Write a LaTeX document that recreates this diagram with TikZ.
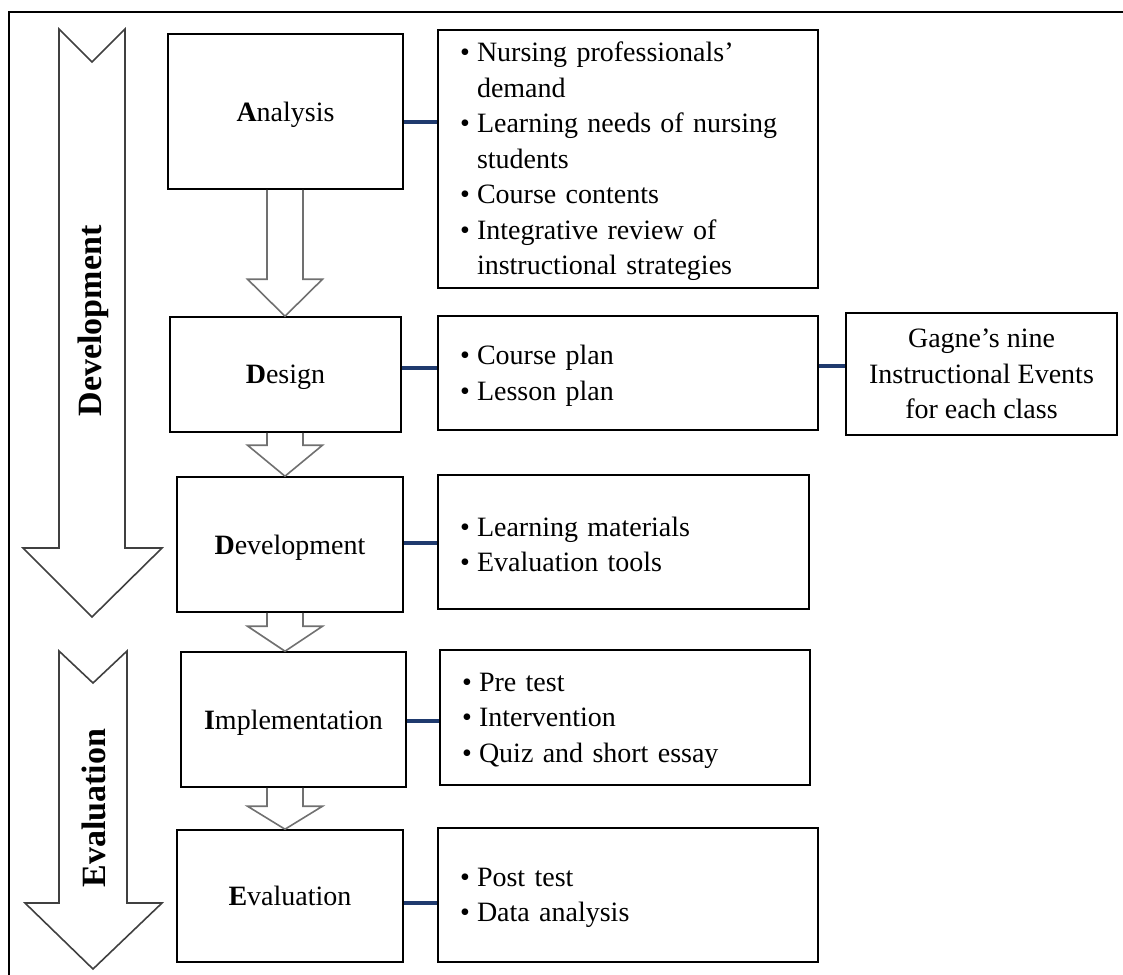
\documentclass[tikz,border=0pt]{standalone}
\usepackage{fontspec}
\setmainfont{Liberation Serif}
\usepackage{xcolor}
\usepackage{tikz}
\usetikzlibrary{positioning,calc}

\definecolor{linkblue}{HTML}{1F3A6E}
\definecolor{arrgray}{HTML}{707070}

\newcommand{\itm}{\par\hangindent=17pt\hangafter=1\noindent\makebox[17pt][l]{\textbullet}}
\newcommand{\listend}{\par\kern11pt}
\newcommand{\flowarrow}[3]{%
    \draw[smallarr] let \p1=(ax |- #1.south), \p2=(ax |- #2.north) in
        (\x1-18pt,\y1) -- (\x1-18pt,\y2+#3pt) -- (\x1-37.5pt,\y2+#3pt) -- (\x2,\y2)
        -- (\x1+37.5pt,\y2+#3pt) -- (\x1+18pt,\y2+#3pt) -- (\x1+18pt,\y1);}

\begin{document}
\begin{tikzpicture}[x=1pt, y=-1pt,
        stage/.style={rectangle, draw, line width=1.6pt, align=center, inner sep=0pt, text depth=0pt, font=\fontsize{28}{35.5}\selectfont},
        note/.style={rectangle, draw, line width=1.6pt, align=center, inner sep=0pt, font=\fontsize{28}{35.5}\selectfont},
        list/.style={rectangle, draw, line width=1.6pt, align=left, inner xsep=22pt, inner ysep=0pt, font=\fontsize{28}{35.5}\selectfont},
        link/.style={line width=3.8pt, linkblue},
        smallarr/.style={draw=arrgray, line width=1.6pt},
        bigarr/.style={draw=black!75, line width=1.6pt},
        phase/.style={rotate=90, font=\fontsize{34}{40}\selectfont\bfseries}
    ]
        \useasboundingbox (0,0) rectangle (1123,974);
        \clip (0,0) rectangle (1123,974);
        \draw[line width=2.5pt] (9,12) rectangle (1140,990);

        % Phase arrows
        \draw[bigarr] (59,29) -- (92,62) -- (125,29) -- (125,548) -- (162,548) -- (92,617) -- (23,548) -- (59,548) -- cycle;
        \node[phase] (devphase) at (93,321) {Development};
        \draw[bigarr] (59,651) -- (93,683) -- (127,651) -- (127,903) -- (162,903) -- (93,969) -- (25,903) -- (59,903) -- cycle;
        \node[phase] (evaphase) at (94,808) {Evaluation};

        % ADDIE stages
        \node[stage, minimum width=235, minimum height=155] (ana) at (285.5,111.5) {\textbf{A}nalysis};
        \node[stage, minimum width=231, minimum height=115] (des) at (285.5,374.5) {\textbf{D}esign};
        \node[stage, minimum width=226, minimum height=135] (dev) at (290,544.5) {\textbf{D}evelopment};
        \node[stage, minimum width=225, minimum height=135] (imp) at (293.5,719.5) {\textbf{I}mplementation};
        \node[stage, minimum width=226, minimum height=132] (eva) at (290,896) {\textbf{E}valuation};

        % Contents
        \node[list, inner ysep=-12pt, text width=336, minimum height=258] (anal) at (628,159) {\itm Nursing professionals’\newline demand
            \itm Learning needs of nursing\newline students \itm Course contents
            \itm Integrative review of\newline instructional strategies\listend};
        \node[list, text width=336, minimum height=114] (desl) at (628,373) {\itm Course plan \itm Lesson plan\listend};
        \node[list, text width=327, minimum height=134] (devl) at (623.5,542) {\itm Learning materials \itm Evaluation tools\listend};
        \node[list, text width=326, minimum height=135] (impl) at (625,717.5) {\itm Pre test \itm Intervention \itm Quiz and short essay\listend};
        \node[list, text width=336, minimum height=134] (eval) at (628,895) {\itm Post test \itm Data analysis\listend};
        \node[note, minimum width=271, minimum height=122] (gag) at (981.5,374) {Gagne’s nine\\Instructional Events\\for each class};

        % Stage arrows
        \coordinate (ax) at (285,0);
        \flowarrow{ana}{des}{37}
        \flowarrow{des}{dev}{31}
        \flowarrow{dev}{imp}{25}
        \flowarrow{imp}{eva}{23}

        % Links
        \draw[link] ([yshift=-10.5pt]ana.east) -- ([yshift=37pt]anal.west);
        \draw[link] ([yshift=6.5pt]des.east) -- ([yshift=5pt]desl.west);
        \draw[link] ([yshift=7pt]desl.east) -- ([yshift=8pt]gag.west);
        \draw[link] ([yshift=1.5pt]dev.east) -- ([yshift=-1pt]devl.west);
        \draw[link] ([yshift=-1.5pt]imp.east) -- ([yshift=-3.5pt]impl.west);
        \draw[link] ([yshift=-7pt]eva.east) -- ([yshift=-8pt]eval.west);
    \end{tikzpicture}
\end{document}
